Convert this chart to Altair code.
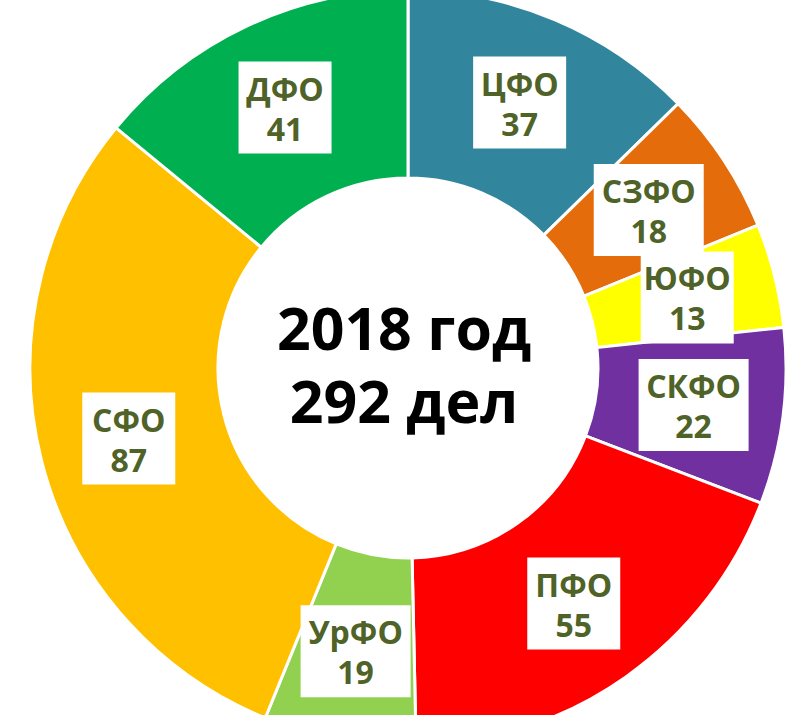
import altair as alt
import pandas as pd

regions = ["ЦФО", "СЗФО", "ЮФО", "СКФО", "ПФО", "УрФО", "СФО", "ДФО"]
values = [37, 18, 13, 22, 55, 19, 87, 41]
colors = ["#31859C", "#E46C0A", "#FFFF00", "#7030A0", "#FF0000", "#92D050", "#FFC000", "#00B050"]
center_lines = ["2018 год", "292 дел"]

df = pd.DataFrame({"region": regions, "value": values, "order": list(range(len(regions)))})

CX, CY = 408, 368
R_OUT, R_IN = 378, 190
R_LAB = 288

base = alt.Chart(df)

arcs = base.mark_arc(stroke="white", strokeWidth=3, x=CX, y=CY, radius=R_OUT, radius2=R_IN).encode(
    theta=alt.Theta("value:Q", stack=True),
    order=alt.Order("order:Q"),
    color=alt.Color("region:N", scale=alt.Scale(domain=regions, range=colors), legend=None),
)

lab = base.transform_joinaggregate(total="sum(value)").transform_window(
    cum="sum(value)", sort=[alt.SortField("order")], frame=[None, 0]
).transform_calculate(
    mid="(datum.cum - datum.value/2)/datum.total*2*PI",
    lx=f"{CX} + {R_LAB}*sin(datum.mid)",
    ly=f"{CY} - {R_LAB}*cos(datum.mid)",
    w="17*length(datum.region) + 42",
    x1="datum.lx - datum.w/2",
    x2="datum.lx + datum.w/2",
    y1="datum.ly - 46",
    y2="datum.ly + 46",
    label="datum.region + '\\n' + datum.value",
)

boxes = lab.mark_rect(color="white").encode(
    x=alt.X("x1:Q", scale=None, axis=None),
    x2="x2:Q",
    y=alt.Y("y1:Q", scale=None, axis=None),
    y2="y2:Q",
)

texts = lab.mark_text(
    lineBreak="\n", lineHeight=40, font="Open Sans", fontWeight="bold", fontSize=32,
    color="#4F6228", baseline="middle", align="center", dy=-17,
).encode(
    x=alt.X("lx:Q", scale=None, axis=None),
    y=alt.Y("ly:Q", scale=None, axis=None),
    text="label:N",
)

center = alt.Chart(pd.DataFrame({"t": ["\n".join(center_lines)]})).mark_text(
    lineBreak="\n", lineHeight=73, font="Open Sans", fontWeight="bold", fontSize=59,
    color="black", baseline="middle", align="center", dy=-36,
).encode(
    x=alt.value(CX - 4),
    y=alt.value(CY),
    text="t:N",
)

chart = alt.layer(arcs, boxes, texts, center).properties(
    width=801, height=715, padding=0, autosize=alt.AutoSizeParams(type="none"), background="white"
).configure_view(stroke=None)

chart.save("out.html", embed_options={"renderer": "svg", "actions": False})
